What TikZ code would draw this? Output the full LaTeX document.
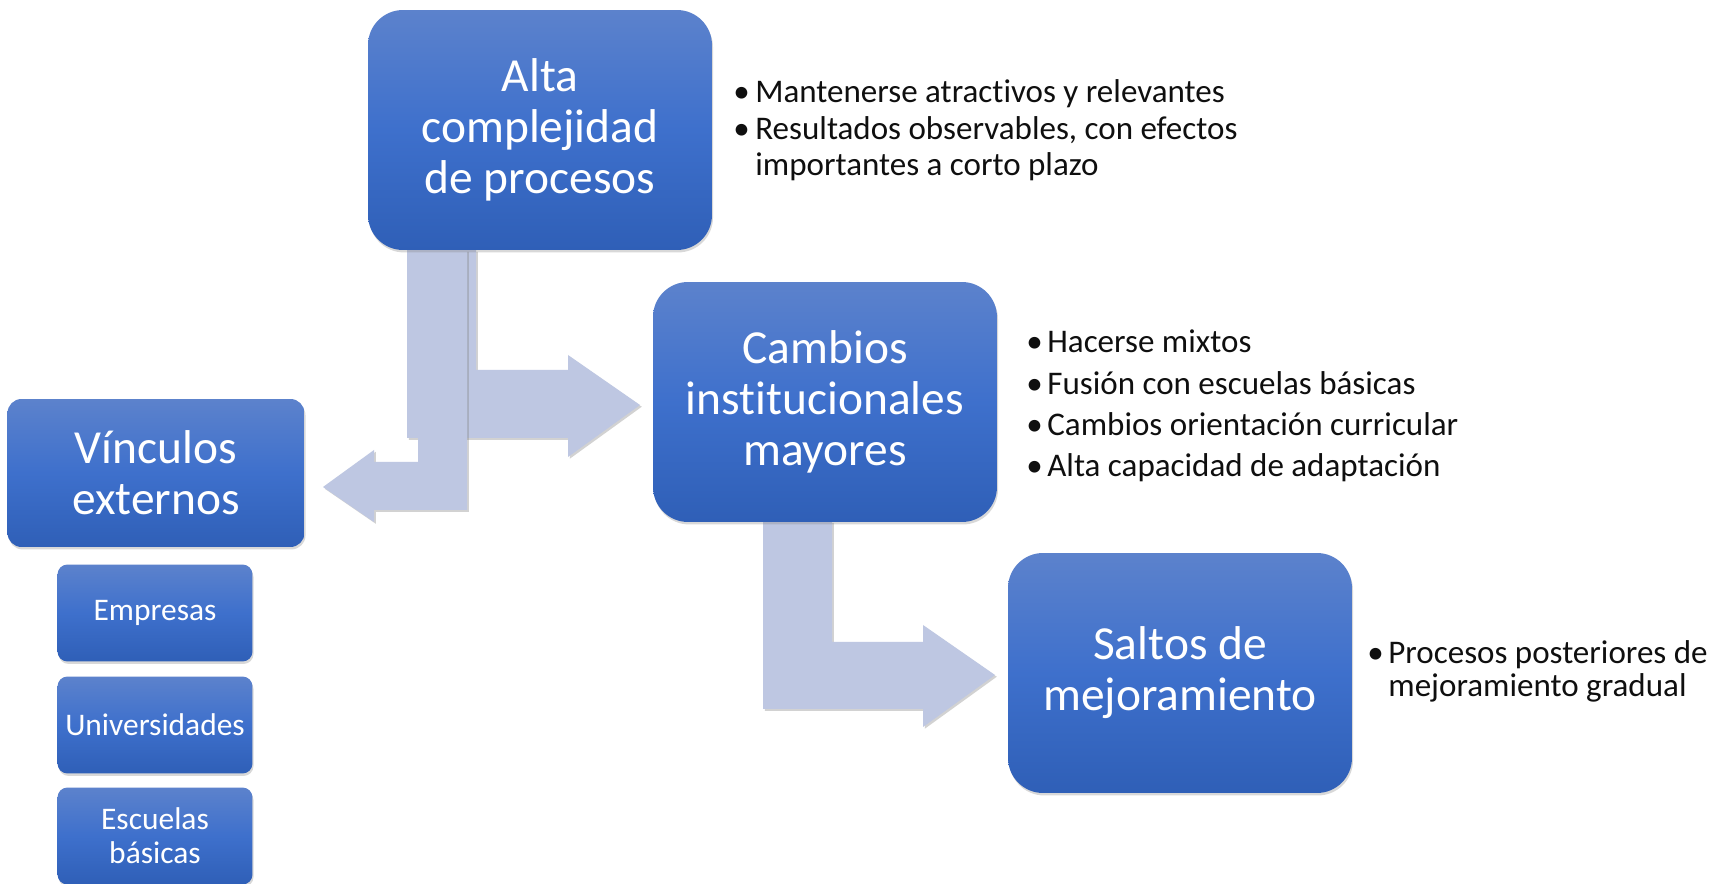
\documentclass[tikz,border=0pt]{standalone}
\usepackage{fontspec}
\setmainfont{Carlito}[Ligatures={NoCommon}]
\usetikzlibrary{shadows,calc}
\definecolor{arrowfill}{RGB}{190,199,226}
\definecolor{boxtop}{RGB}{92,130,204}
\definecolor{boxmid}{RGB}{62,112,204}
\definecolor{boxbot}{RGB}{47,95,183}
\definecolor{bullettext}{RGB}{15,15,15}
\begin{document}
\begin{tikzpicture}[x=0.02cm, y=-0.02cm,
  bigbox/.style={rounded corners=0.7cm, minimum width=6.88cm, minimum height=4.8cm,
    inner sep=0pt, top color=boxtop, bottom color=boxbot, middle color=boxmid,
    text=white, align=center, font=\fontsize{27}{29}\selectfont,
    drop shadow={opacity=0.3, shadow xshift=0.6pt, shadow yshift=-1.4pt}},
  midbox/.style={bigbox, minimum width=5.94cm, minimum height=2.96cm, rounded corners=0.28cm},
  smallbox/.style={bigbox, minimum width=3.9cm, minimum height=1.94cm, rounded corners=0.2cm,
    font=\fontsize{17.9}{19.4}\selectfont},
  blockarrow/.style={fill=arrowfill, draw=none,
    drop shadow={opacity=0.35, shadow xshift=1pt, shadow yshift=-1pt}},
  btext/.style={anchor=base west, inner sep=0pt, text=bullettext,
    font=\fontsize{18.8}{20}\selectfont}]
\fill[white] (0,0) rectangle (1715,884);
\useasboundingbox (0,0) rectangle (1715,884);

\path (540,130) coordinate (altac);
\path (825,402) coordinate (cambiosc);

% block arrows
\fill[blockarrow] (407,250) -- (476,250) -- (476,370) -- (568,370) -- (568,355)
  -- (640,405) -- (568,457) -- (568,438) -- (407,438) -- cycle;
\fill[blockarrow] (418,250) -- (467,250) -- (467,510) -- (374,510) -- (374,522)
  -- (323,487) -- (374,450) -- (374,462) -- (418,462) -- cycle;
\fill[blockarrow] (763,521) -- (832,521) -- (832,642) -- (923,642) -- (923,625)
  -- (995,675) -- (923,727) -- (923,709) -- (763,709) -- cycle;

% boxes
\node[bigbox] (alta) at (altac) {Alta\\complejidad\\de procesos};
\node[bigbox] (cambios) at (cambiosc) {Cambios\\institucionales\\mayores};
\node[bigbox] (saltos) at (1180,673) {Saltos de\\mejoramiento};
\node[midbox] (vinculos) at (156,473) {Vínculos\\externos};
\node[smallbox] (empresas) at (155,613) {Empresas};
\node[smallbox] (univ) at (155,725) {Universidades};
\node[smallbox] (escuelas) at (155,836) {Escuelas\\básicas};

% bullet texts
\node[btext] (ab1) at (733,103) {\textbullet};
\node[btext] (at1) at (755,103) {Mantenerse atractivos y relevantes};
\node[btext] (ab2) at (733,140) {\textbullet};
\node[btext] (at2) at (755,140) {Resultados observables, con efectos};
\node[btext] (at3) at (755,176) {importantes a corto plazo};

\node[btext] (cb1) at (1026,353) {\textbullet};
\node[btext] (ct1) at (1047,353) {Hacerse mixtos};
\node[btext] (cb2) at (1026,395) {\textbullet};
\node[btext] (ct2) at (1047,395) {Fusión con escuelas básicas};
\node[btext] (cb3) at (1026,436) {\textbullet};
\node[btext] (ct3) at (1047,436) {Cambios orientación curricular};
\node[btext] (cb4) at (1026,477) {\textbullet};
\node[btext] (ct4) at (1047,477) {Alta capacidad de adaptación};

\node[btext] (sb1) at (1367,664) {\textbullet};
\node[btext] (st1) at (1388,664) {Procesos posteriores de};
\node[btext] (st2) at (1388,697) {mejoramiento gradual};
\end{tikzpicture}
\end{document}
